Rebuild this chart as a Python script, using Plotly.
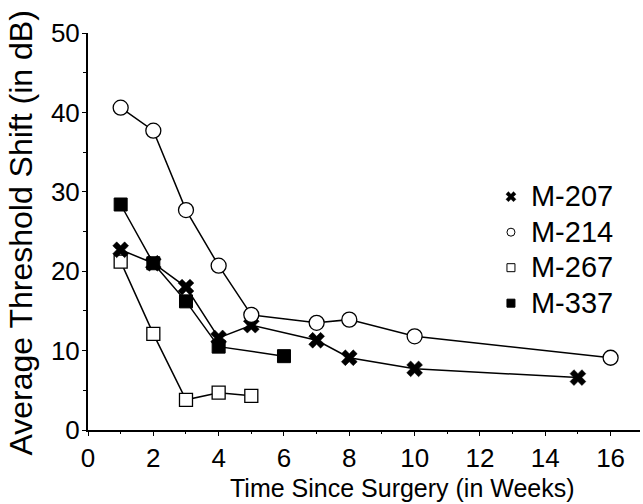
import plotly.graph_objects as go

weeks_207 = [1, 2, 3, 4, 5, 7, 8, 10, 15]
shift_207 = [22.7, 21.0, 18.0, 11.6, 13.2, 11.3, 9.1, 7.7, 6.6]

weeks_214 = [1, 2, 3, 4, 5, 7, 8, 10, 16]
shift_214 = [40.6, 37.7, 27.7, 20.7, 14.5, 13.5, 13.9, 11.8, 9.1]

weeks_267 = [1, 2, 3, 4, 5]
shift_267 = [21.2, 12.1, 3.8, 4.7, 4.3]

weeks_337 = [1, 2, 3, 4, 6]
shift_337 = [28.4, 21.0, 16.2, 10.5, 9.3]

x_ticks = [0, 2, 4, 6, 8, 10, 12, 14, 16]
y_ticks = [0, 10, 20, 30, 40, 50]

FONT = "Liberation Sans, Arial, sans-serif"

series = [
    ("M-337", weeks_337, shift_337, dict(symbol="square", size=13, color="black", line=dict(color="black", width=1))),
    ("M-267", weeks_267, shift_267, dict(symbol="square", size=13, color="white", line=dict(color="black", width=1.3))),
    ("M-207", weeks_207, shift_207, dict(symbol="x", size=14, color="black", line=dict(color="black", width=0.5))),
    ("M-214", weeks_214, shift_214, dict(symbol="circle", size=15, color="white", line=dict(color="black", width=1.3))),
]

fig = go.Figure()
for name, xs, ys, mk in series:
    fig.add_trace(go.Scatter(x=xs, y=ys, mode="lines+markers", name=name,
                             line=dict(color="black", width=1.5), marker=mk,
                             showlegend=False))

legend_order = ["M-207", "M-214", "M-267", "M-337"]
mk_by_name = {n: m for n, _, _, m in series}
for n in legend_order:
    m0 = mk_by_name[n]
    is_x = m0["symbol"] == "x"
    m = dict(symbol=m0["symbol"], size=9 if is_x else 8, color=m0["color"],
             line=dict(color="black", width=0.3 if is_x else 1))
    fig.add_trace(go.Scatter(x=[None], y=[None], mode="markers",
                             name=f"<span style='font-size:29px'>{n}</span>",
                             marker=m, showlegend=True))

fig.update_layout(
    width=643, height=504,
    margin=dict(l=88, r=3, t=33, b=74),
    paper_bgcolor="white", plot_bgcolor="white",
    font=dict(family=FONT, color="black"),
    legend=dict(x=0.73, y=0.645, xanchor="left", yanchor="top",
                font=dict(size=25, family=FONT), bgcolor="rgba(0,0,0,0)",
                itemwidth=30, tracegroupgap=0),
    xaxis=dict(range=[0, 16.9], tickvals=x_ticks, ticktext=[str(v) for v in x_ticks],
               showgrid=False, zeroline=False, showline=True, linecolor="black", linewidth=2,
               ticks="outside", ticklen=4, tickcolor="black", tickwidth=1,
               tickfont=dict(size=26),
               minor=dict(dtick=1, ticks="outside", ticklen=2, tickcolor="black")),
    yaxis=dict(range=[0, 50], tickvals=y_ticks, ticktext=[str(v) for v in y_ticks],
               showgrid=False, zeroline=False, showline=True, linecolor="black", linewidth=2,
               ticks="outside", ticklen=4, tickcolor="black", tickwidth=1,
               tickfont=dict(size=26), ticklabelstandoff=-3,
               minor=dict(dtick=5, ticks="outside", ticklen=3, tickcolor="black")),
    annotations=[
        dict(text="Time Since Surgery (in Weeks)", xref="paper", yref="paper",
             x=0.569, y=0, yshift=-58, xanchor="center", yanchor="middle",
             showarrow=False, font=dict(size=25, family=FONT)),
        dict(text="Average Threshold Shift (in dB)", xref="paper", yref="paper",
             x=0, xshift=-67, y=0.495, xanchor="center", yanchor="middle",
             textangle=-90, showarrow=False, font=dict(size=32, family=FONT)),
    ],
)

fig.write_html("out.html")
